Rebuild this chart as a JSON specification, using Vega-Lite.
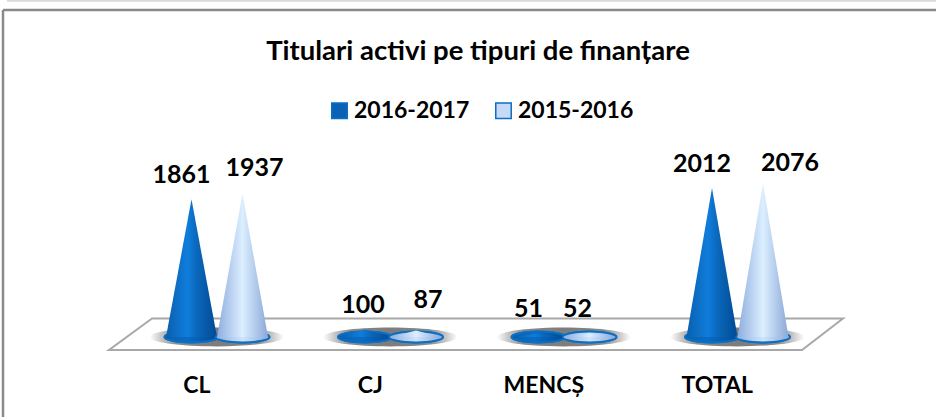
{
"$schema":"https://vega.github.io/schema/vega-lite/v6.json",
"autosize":"none","width":936,"height":417,"padding":0,
"background":"white",
"config":{"view":{"stroke":null},"font":"Lato"},
"title":{"text":"Titulari activi pe tipuri de finanțare","font":"Lato","fontWeight":"bold","fontSize":27.5,"color":"#000","anchor":"middle","frame":"group","offset":-66,"dx":10},
"datasets":{
"cones":[
{"category":"CL","series":"2016-2017","stop":"a","value":0},{"category":"CL","series":"2016-2017","stop":"b","value":1861},{"category":"CL","series":"2016-2017","stop":"c","value":0},
{"category":"CL","series":"2015-2016","stop":"c","value":0},{"category":"CL","series":"2015-2016","stop":"d","value":1937},{"category":"CL","series":"2015-2016","stop":"e","value":0},
{"category":"CJ","series":"2016-2017","stop":"a","value":0},{"category":"CJ","series":"2016-2017","stop":"b","value":100},{"category":"CJ","series":"2016-2017","stop":"c","value":0},
{"category":"CJ","series":"2015-2016","stop":"c","value":0},{"category":"CJ","series":"2015-2016","stop":"d","value":87},{"category":"CJ","series":"2015-2016","stop":"e","value":0},
{"category":"MENCȘ","series":"2016-2017","stop":"a","value":0},{"category":"MENCȘ","series":"2016-2017","stop":"b","value":51},{"category":"MENCȘ","series":"2016-2017","stop":"c","value":0},
{"category":"MENCȘ","series":"2015-2016","stop":"c","value":0},{"category":"MENCȘ","series":"2015-2016","stop":"d","value":52},{"category":"MENCȘ","series":"2015-2016","stop":"e","value":0},
{"category":"TOTAL","series":"2016-2017","stop":"a","value":0},{"category":"TOTAL","series":"2016-2017","stop":"b","value":2012},{"category":"TOTAL","series":"2016-2017","stop":"c","value":0},
{"category":"TOTAL","series":"2015-2016","stop":"c","value":0},{"category":"TOTAL","series":"2015-2016","stop":"d","value":2076},{"category":"TOTAL","series":"2015-2016","stop":"e","value":0}
]},
"layer":[
{"data":{"values":[{"a":3,"b":936,"v":4419}]},"mark":{"type":"rule","stroke":"#8a8a8a","strokeWidth":2.5},
 "encoding":{"x":{"field":"a","type":"quantitative","scale":{"domain":[0,936]},"axis":null},"x2":{"field":"b"},"y":{"field":"v","type":"quantitative","scale":{"domain":[-1081,4554],"nice":false,"zero":false},"axis":null}}},
{"data":{"values":[{"a":7,"b":936,"v":4545}]},"mark":{"type":"rule","stroke":"#d9d9d9","strokeWidth":2},
 "encoding":{"x":{"field":"a","type":"quantitative","scale":{"domain":[0,936]},"axis":null},"x2":{"field":"b"},"y":{"field":"v","type":"quantitative","axis":null}}},
{"data":{"values":[{"a":3,"v":4419,"w":-1081}]},"mark":{"type":"rule","stroke":"#8a8a8a","strokeWidth":2.5},
 "encoding":{"x":{"field":"a","type":"quantitative","scale":{"domain":[0,936]},"axis":null},"y":{"field":"v","type":"quantitative","axis":null},"y2":{"field":"w"}}},
{"data":{"values":[{"edge":"back","a":152,"b":843,"v":250},{"edge":"front","a":109,"b":802,"v":-176}]},
 "mark":{"type":"area","orient":"horizontal","fill":"white","stroke":"#a8a8a8","strokeWidth":2},
 "encoding":{"x":{"field":"a","type":"quantitative","scale":{"domain":[0,936]},"axis":null},"x2":{"field":"b"},"y":{"field":"v","type":"quantitative","axis":null}}},
{"data":{"values":[{"category":"CL"},{"category":"CJ"},{"category":"MENCȘ"},{"category":"TOTAL"}]},
 "mark":{"type":"point","filled":true,"size":18000,"opacity":1,"shape":"M-1,0A1,0.14,0,1,0,1,0A1,0.14,0,1,0,-1,0Z","fill":{"gradient":"radial","x1":0.5,"y1":0.5,"r1":0,"x2":0.5,"y2":0.5,"r2":0.5,"stops":[{"offset":0,"color":"#7a7a7a"},{"offset":0.6,"color":"#8a8a8a"},{"offset":0.82,"color":"#c4c4c4"},{"offset":1,"color":"#ffffff"}]}},
 "encoding":{"x":{"field":"category","type":"nominal","sort":null,"scale":{"type":"band","domain":["CL","CJ","MENCȘ","TOTAL"],"range":[130,824],"paddingInner":0,"paddingOuter":0},"axis":null},"y":{"datum":0,"type":"quantitative","axis":null}}},
{"data":{"name":"cones"},"transform":[{"filter":"datum.stop=='b'||datum.stop=='d'"}],
 "mark":{"type":"point","filled":true,"size":2900,"opacity":1,"strokeWidth":2,"stroke":"#0b6fc4","shape":"M-1,0A1,0.2,0,1,0,1,0A1,0.2,0,1,0,-1,0Z"},
 "encoding":{"x":{"field":"category","type":"nominal","sort":null,"scale":{"type":"band","domain":["CL","CJ","MENCȘ","TOTAL"],"range":[130,824],"paddingInner":0,"paddingOuter":0},"axis":null},
  "xOffset":{"field":"stop","type":"nominal","scale":{"type":"point","padding":0,"domain":["a","b","c","d","e"],"range":[36,138]}},
  "y":{"datum":0,"type":"quantitative","axis":null},
  "fill":{"field":"series","type":"nominal","sort":["2016-2017","2015-2016"],
   "scale":{"domain":["2016-2017","2015-2016"],"range":["#0a62b4","#c6daf6"]},
   "legend":{"title":null,"orient":"none","legendX":328,"legendY":99,"direction":"horizontal","symbolType":"square","symbolSize":240,"symbolStrokeColor":"#0b6fc4","symbolStrokeWidth":1.5,"labelFont":"Lato","labelFontWeight":"bold","labelFontSize":23,"labelColor":"#000","columnPadding":22,"labelOffset":3}}}},
{"data":{"name":"cones"},"transform":[{"filter":"datum.series=='2016-2017'&&datum.stop=='b'"}],
 "mark":{"type":"point","filled":true,"size":2900,"opacity":1,"strokeWidth":2,"stroke":"#0b6fc4","shape":"M-1,0A1,0.2,0,1,0,1,0A1,0.2,0,1,0,-1,0Z","fill":{"gradient":"linear","x1":0,"y1":0,"x2":1,"y2":0,"stops":[{"offset":0,"color":"#0a5fae"},{"offset":0.42,"color":"#0a6cc6"},{"offset":1,"color":"#004a94"}]}},
 "encoding":{"x":{"field":"category","type":"nominal","sort":null,"scale":{"type":"band","domain":["CL","CJ","MENCȘ","TOTAL"],"range":[130,824],"paddingInner":0,"paddingOuter":0},"axis":null},
  "xOffset":{"field":"stop","type":"nominal","scale":{"type":"point","padding":0,"domain":["a","b","c","d","e"],"range":[36,138]}},
  "y":{"datum":0,"type":"quantitative","axis":null}}},
{"data":{"name":"cones"},"transform":[{"filter":"datum.series=='2016-2017'"}],
 "mark":{"type":"area","interpolate":"linear","fill":{"gradient":"linear","x1":0,"y1":0,"x2":1,"y2":0,"stops":[{"offset":0,"color":"#0a5fae"},{"offset":0.42,"color":"#0f7ddc"},{"offset":0.6,"color":"#0b68bc"},{"offset":1,"color":"#004a94"}]}},
 "encoding":{"x":{"field":"category","type":"nominal","sort":null,"scale":{"type":"band","domain":["CL","CJ","MENCȘ","TOTAL"],"range":[130,824],"paddingInner":0,"paddingOuter":0},
   "axis":{"title":null,"orient":"bottom","domain":false,"ticks":false,"labelAngle":0,"labelFont":"Lato","labelFontWeight":"bold","labelFontSize":23,"labelColor":"#000","labelPadding":-43,"labelOffset":-20}},
  "xOffset":{"field":"stop","type":"nominal","scale":{"type":"point","padding":0,"domain":["a","b","c","d","e"],"range":[36,138]}},
  "y":{"field":"value","type":"quantitative","stack":null,"axis":null},
  "detail":{"field":"category"}}},
{"data":{"name":"cones"},"transform":[{"filter":"datum.series=='2015-2016'&&datum.stop=='d'"}],
 "mark":{"type":"point","filled":true,"size":2900,"opacity":1,"strokeWidth":2,"stroke":"#0b6fc4","shape":"M-1,0A1,0.2,0,1,0,1,0A1,0.2,0,1,0,-1,0Z","fill":{"gradient":"linear","x1":0,"y1":0,"x2":1,"y2":0,"stops":[{"offset":0,"color":"#8fadde"},{"offset":0.5,"color":"#cfe4fb"},{"offset":1,"color":"#8aa8d8"}]}},
 "encoding":{"x":{"field":"category","type":"nominal","sort":null,"scale":{"type":"band","domain":["CL","CJ","MENCȘ","TOTAL"],"range":[130,824],"paddingInner":0,"paddingOuter":0},"axis":null},
  "xOffset":{"field":"stop","type":"nominal","scale":{"type":"point","padding":0,"domain":["a","b","c","d","e"],"range":[36,138]}},
  "y":{"datum":0,"type":"quantitative","axis":null}}},
{"data":{"name":"cones"},"transform":[{"filter":"datum.series=='2015-2016'"}],
 "mark":{"type":"area","interpolate":"linear","fill":{"gradient":"linear","x1":0,"y1":0,"x2":1,"y2":0,"stops":[{"offset":0,"color":"#8fadde"},{"offset":0.5,"color":"#dcefff"},{"offset":1,"color":"#8aa8d8"}]}},
 "encoding":{"x":{"field":"category","type":"nominal","sort":null,"scale":{"type":"band","domain":["CL","CJ","MENCȘ","TOTAL"],"range":[130,824],"paddingInner":0,"paddingOuter":0},"axis":null},
  "xOffset":{"field":"stop","type":"nominal","scale":{"type":"point","padding":0,"domain":["a","b","c","d","e"],"range":[36,138]}},
  "y":{"field":"value","type":"quantitative","stack":null,"axis":null},
  "detail":{"field":"category"}}},
{"data":{"name":"cones"},"transform":[{"filter":"datum.value==1861||datum.value==51||datum.value==2012"}],"mark":{"type":"text","font":"Lato","fontWeight":"bold","fontSize":25,"color":"#000","dx":-10,"dy":-24},
 "encoding":{"x":{"field":"category","type":"nominal","sort":null,"scale":{"type":"band","domain":["CL","CJ","MENCȘ","TOTAL"],"range":[130,824],"paddingInner":0,"paddingOuter":0},"axis":null},"xOffset":{"field":"stop","type":"nominal","scale":{"type":"point","padding":0,"domain":["a","b","c","d","e"],"range":[36,138]}},"y":{"field":"value","type":"quantitative","axis":null},"text":{"field":"value","type":"quantitative"}}},
{"data":{"name":"cones"},"transform":[{"filter":"datum.value==100"}],"mark":{"type":"text","font":"Lato","fontWeight":"bold","fontSize":25,"color":"#000","dx":-2,"dy":-25},
 "encoding":{"x":{"field":"category","type":"nominal","sort":null,"scale":{"type":"band","domain":["CL","CJ","MENCȘ","TOTAL"],"range":[130,824],"paddingInner":0,"paddingOuter":0},"axis":null},"xOffset":{"field":"stop","type":"nominal","scale":{"type":"point","padding":0,"domain":["a","b","c","d","e"],"range":[36,138]}},"y":{"field":"value","type":"quantitative","axis":null},"text":{"field":"value","type":"quantitative"}}},
{"data":{"name":"cones"},"transform":[{"filter":"datum.value==1937"}],"mark":{"type":"text","font":"Lato","fontWeight":"bold","fontSize":25,"color":"#000","dx":12,"dy":-26},
 "encoding":{"x":{"field":"category","type":"nominal","sort":null,"scale":{"type":"band","domain":["CL","CJ","MENCȘ","TOTAL"],"range":[130,824],"paddingInner":0,"paddingOuter":0},"axis":null},"xOffset":{"field":"stop","type":"nominal","scale":{"type":"point","padding":0,"domain":["a","b","c","d","e"],"range":[36,138]}},"y":{"field":"value","type":"quantitative","axis":null},"text":{"field":"value","type":"quantitative"}}},
{"data":{"name":"cones"},"transform":[{"filter":"datum.value==87"}],"mark":{"type":"text","font":"Lato","fontWeight":"bold","fontSize":25,"color":"#000","dx":12,"dy":-31},
 "encoding":{"x":{"field":"category","type":"nominal","sort":null,"scale":{"type":"band","domain":["CL","CJ","MENCȘ","TOTAL"],"range":[130,824],"paddingInner":0,"paddingOuter":0},"axis":null},"xOffset":{"field":"stop","type":"nominal","scale":{"type":"point","padding":0,"domain":["a","b","c","d","e"],"range":[36,138]}},"y":{"field":"value","type":"quantitative","axis":null},"text":{"field":"value","type":"quantitative"}}},
{"data":{"name":"cones"},"transform":[{"filter":"datum.value==52"}],"mark":{"type":"text","font":"Lato","fontWeight":"bold","fontSize":25,"color":"#000","dx":-12,"dy":-24},
 "encoding":{"x":{"field":"category","type":"nominal","sort":null,"scale":{"type":"band","domain":["CL","CJ","MENCȘ","TOTAL"],"range":[130,824],"paddingInner":0,"paddingOuter":0},"axis":null},"xOffset":{"field":"stop","type":"nominal","scale":{"type":"point","padding":0,"domain":["a","b","c","d","e"],"range":[36,138]}},"y":{"field":"value","type":"quantitative","axis":null},"text":{"field":"value","type":"quantitative"}}},
{"data":{"name":"cones"},"transform":[{"filter":"datum.value==2076"}],"mark":{"type":"text","font":"Lato","fontWeight":"bold","fontSize":25,"color":"#000","dx":27,"dy":-20},
 "encoding":{"x":{"field":"category","type":"nominal","sort":null,"scale":{"type":"band","domain":["CL","CJ","MENCȘ","TOTAL"],"range":[130,824],"paddingInner":0,"paddingOuter":0},"axis":null},"xOffset":{"field":"stop","type":"nominal","scale":{"type":"point","padding":0,"domain":["a","b","c","d","e"],"range":[36,138]}},"y":{"field":"value","type":"quantitative","axis":null},"text":{"field":"value","type":"quantitative"}}}
],
"resolve":{"scale":{"x":"independent","xOffset":"independent"}}
}
